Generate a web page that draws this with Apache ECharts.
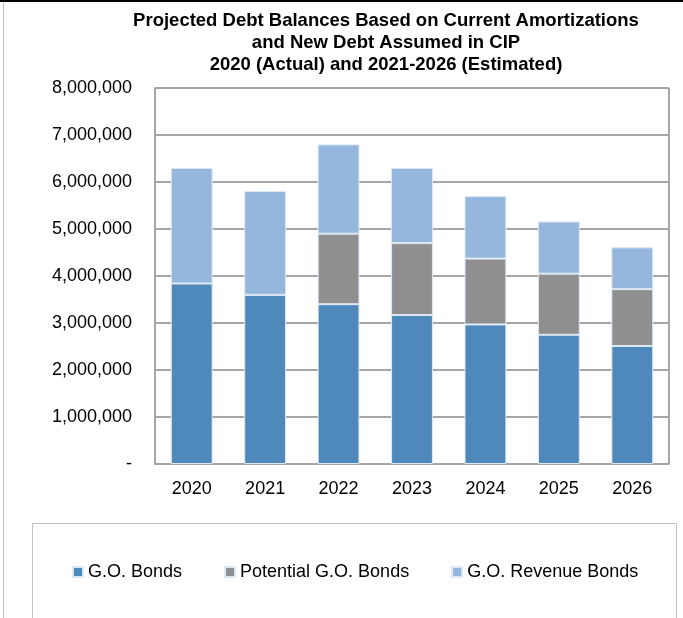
<!DOCTYPE html>
<html>
<head>
<meta charset="utf-8">
<script src="https://cdn.jsdelivr.net/npm/echarts@6/dist/echarts.min.js"></script>
<style>
  html, body { margin: 0; padding: 0; background: #fff; }
  #chart { width: 683px; height: 618px; }
</style>
</head>
<body>
<div id="chart"></div>
<script>
var years = ['2020', '2021', '2022', '2023', '2024', '2025', '2026'];
var goBonds = [3840000, 3600000, 3400000, 3170000, 2970000, 2750000, 2510000];
var potentialGoBonds = [0, 0, 1500000, 1530000, 1400000, 1300000, 1210000];
var goRevenueBonds = [2460000, 2210000, 1900000, 1600000, 1330000, 1110000, 890000];
var seriesNames = ['G.O. Bonds', 'Potential G.O. Bonds', 'G.O. Revenue Bonds'];
var colors = ['#4f88bb', '#8f8f8f', '#95b7de'];

var font = 'Liberation Sans, Arial, sans-serif';
var chart = echarts.init(document.getElementById('chart'));

function bar(name, data, color) {
    return {
        name: name,
        type: 'bar',
        stack: 'debt',
        data: data,
        barWidth: '57%',
        itemStyle: { color: color, borderColor: '#dde8f4', borderWidth: 1 },
        emphasis: { disabled: true }
    };
}

chart.setOption({
    animation: false,
    title: {
        text: 'Projected Debt Balances Based on Current Amortizations\nand New Debt Assumed in CIP\n2020 (Actual) and 2021-2026 (Estimated)',
        left: 381,
        top: 5,
        textAlign: 'center',
        textStyle: { fontFamily: font, fontSize: 18.5, fontWeight: 'bold', color: '#000', lineHeight: 22 }
    },
    legend: {
        data: seriesNames,
        left: 67,
        top: 558,
        icon: 'rect',
        itemWidth: 10,
        itemHeight: 10,
        itemGap: 42,
        textStyle: { fontFamily: font, fontSize: 18, color: '#000' }
    },
    grid: { left: 155, right: 14, top: 88, bottom: 154 },
    xAxis: {
        type: 'category',
        data: years,
        axisLine: { lineStyle: { color: '#a6a6a6', width: 2 } },
        axisTick: { show: false },
        axisLabel: { fontFamily: font, fontSize: 18, color: '#000', margin: 16 }
    },
    yAxis: {
        type: 'value',
        min: 0,
        max: 8000000,
        interval: 1000000,
        axisLine: { show: true, lineStyle: { color: '#a6a6a6', width: 2 } },
        axisTick: { show: false },
        splitLine: { lineStyle: { color: '#a6a6a6', width: 2 } },
        axisLabel: {
            fontFamily: font, fontSize: 18, color: '#000', margin: 23,
            formatter: function (v) { return v === 0 ? '-' : v.toLocaleString('en-US'); }
        }
    },
    graphic: [
        { type: 'rect', shape: { x: 0, y: 0, width: 683, height: 2 }, style: { fill: '#000' } },
        { type: 'line', shape: { x1: 3.5, y1: 2, x2: 3.5, y2: 618 }, style: { stroke: '#bfbfbf', lineWidth: 1 } },
        { type: 'line', shape: { x1: 669, y1: 88, x2: 669, y2: 464 }, style: { stroke: '#a6a6a6', lineWidth: 2 } },
        { type: 'rect', shape: { x: 32.5, y: 523.5, width: 644, height: 100 }, style: { fill: 'none', stroke: '#bfbfbf', lineWidth: 1 } }
    ],
    series: [
        bar(seriesNames[0], goBonds, colors[0]),
        bar(seriesNames[1], potentialGoBonds, colors[1]),
        bar(seriesNames[2], goRevenueBonds, colors[2])
    ]
});
</script>
</body>
</html>
